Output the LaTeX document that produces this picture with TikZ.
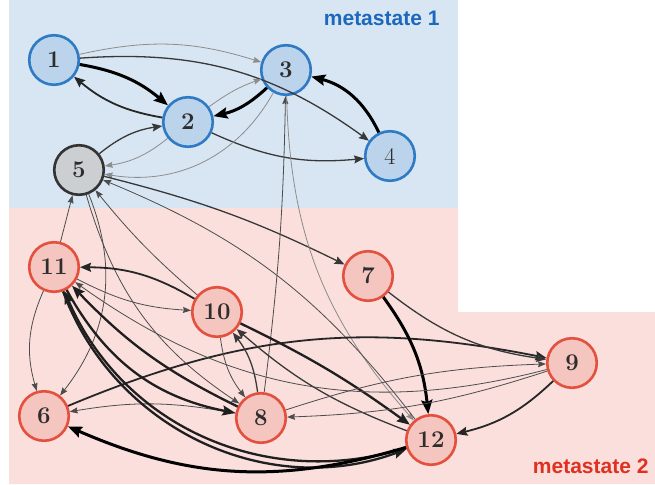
\documentclass[tikz,border=0pt]{standalone}
\usepackage{fontspec}
\newfontfamily\labfont{Liberation Sans}
\usetikzlibrary{arrows.meta}
\definecolor{bluebg}{RGB}{216,230,243}
\definecolor{pinkbg}{RGB}{250,223,221}
\definecolor{bluefill}{RGB}{188,212,235}
\definecolor{blueedge}{RGB}{46,122,196}
\definecolor{redfill}{RGB}{245,197,192}
\definecolor{rededge}{RGB}{228,80,62}
\definecolor{grayfill}{RGB}{204,207,210}
\definecolor{txt}{RGB}{45,45,45}
\definecolor{lab1}{RGB}{28,104,188}
\definecolor{lab2}{RGB}{224,48,32}
\tikzset{
  st/.style={circle, minimum size=49.5pt, inner sep=0pt, line width=2.6pt, text=txt,
    font=\fontsize{24}{24}\selectfont\bfseries},
  bst/.style={st, fill=bluefill, draw=blueedge},
  rst/.style={st, fill=redfill, draw=rededge},
  gst/.style={st, fill=grayfill, draw=black!80},
  tg/.style={line width=0.8pt, draw=black!45, -{Stealth[length=8pt,width=6pt,inset=1pt]}},
  td/.style={line width=0.8pt, draw=black!70, -{Stealth[length=8pt,width=6pt,inset=1pt]}},
  md/.style={line width=1.3pt, draw=black!78, -{Stealth[length=10pt,width=8pt,inset=1.5pt]}},
  mk/.style={line width=1.8pt, draw=black!85, -{Stealth[length=11pt,width=9pt,inset=1.5pt]}},
  tk/.style={line width=2.3pt, draw=black!88, -{Stealth[length=13pt,width=10pt,inset=2pt]}},
  vt/.style={line width=3pt, draw=black, -{Stealth[length=14pt,width=11pt,inset=2pt]}},
}
\begin{document}
\begin{tikzpicture}[x=1pt,y=1pt]
\useasboundingbox (0,0) rectangle (655,-484);
% regions
\fill[bluebg] (9,0) rectangle (458,-208);
\fill[pinkbg] (9,-208) -- (458,-208) -- (458,-312) -- (655,-312) -- (655,-484) -- (9,-484) -- cycle;
\node[anchor=base east, text=lab1, font=\labfont\bfseries\fontsize{21}{21}\selectfont] (m1) at (443,-26) {metastate 1};
\node[anchor=base east, text=lab2, font=\labfont\bfseries\fontsize{21}{21}\selectfont] (m2) at (652,-473) {metastate 2};
% nodes
\node[bst] (1) at (54,-60) {1};
\node[bst] (2) at (188,-122) {2};
\node[bst] (3) at (286,-70) {3};
\node[bst, font=\fontsize{24}{24}\selectfont] (4) at (390,-156) {4};
\node[gst] (5) at (79,-170) {5};
\node[rst] (7) at (368,-276) {7};
\node[rst] (11) at (54,-267) {11};
\node[rst] (10) at (217,-312) {10};
\node[rst] (9) at (572,-363) {9};
\node[rst] (6) at (44,-416) {6};
\node[rst] (8) at (261,-418) {8};
\node[rst] (12) at (431,-440) {12};
% edges
\draw[tg] (1) to[bend left=15] (3);
\draw[md] (1) to[bend left=20] (4);
\draw[vt] (1) to[bend left=15] (2);
\draw[mk] (2) to[bend left=15] (1);
\draw[tg] (2) to[bend left=8] (3);
\draw[vt] (3) to[bend left=15] (2);
\draw[md] (2) to[bend right=15] (4);
\draw[vt] (4) to[bend right=25] (3);
\draw[md] (5) to[bend left=15] (2);
\draw[tg] (2) to[bend left=15] (5);
\draw[tg] (3) to[bend left=35] (5);
\draw[md] (5) to[bend left=6] (7);
\draw[td] (8) to[bend right=3] (3);
\draw[tg] (3) to[bend right=20] (12);
\draw[td] (12) to[bend right=15] (5);
\draw[td] (10) to[bend left=5] (5);
\draw[td] (11) to (5);
\draw[td] (5) to[bend left=30] (6);
\draw[td] (5) to[bend right=20] (8);
\draw[td] (11) to[bend right=20] (6);
\draw[td] (8) to[bend right=10] (6);
\draw[mk] (6) to[bend left=17] (9);
\draw[td] (10) to[bend right=15] (8);
\draw[md] (8) to[bend right=15] (10);
\draw[mk] (10) to[bend right=15] (11);
\draw[td] (11) to[bend right=12] (10);
\draw[tk] (10) to[bend left=5] (12);
\draw[md] (12) to[bend left=10] (10);
\draw[tk] (8) to[bend left=10] (11);
\draw[tk] (11) to[bend right=25] (8);
\draw[tk] (12) to[bend left=42] (11);
\draw[tk] (11) to[bend right=45] (12);
\draw[vt] (12) to[bend left=20] (6);
\draw[vt] (7) to[bend left=15] (12);
\draw[md] (7) to[bend right=15] (9);
\draw[mk] (9) to[bend left=15] (12);
\draw[td] (8) to[bend left=8] (9);
\draw[td] (9) to[bend left=8] (8);
\draw[td] (9) to[bend left=25] (11);
\end{tikzpicture}
\end{document}
